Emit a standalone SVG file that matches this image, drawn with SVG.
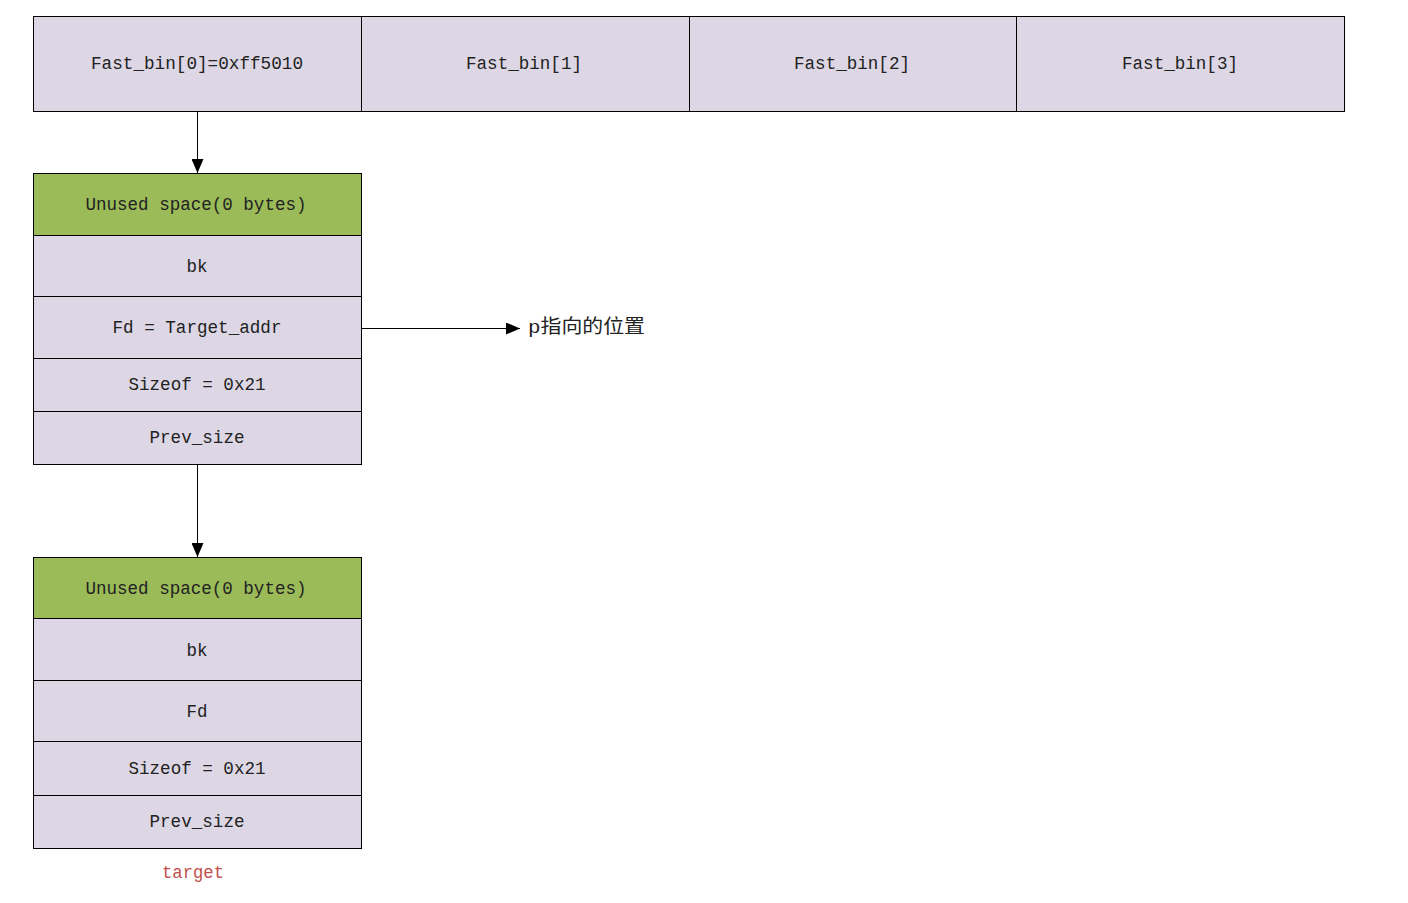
<svg xmlns="http://www.w3.org/2000/svg" width="1408" height="903" viewBox="0 0 1408 903">
<style>
.cell{fill:#DDD7E5;stroke:#000;stroke-width:1}
.green{fill:#9BBB59;stroke:#000;stroke-width:1}
.t{font-family:"Liberation Mono","Noto Sans CJK SC",monospace;font-size:19px;fill:#222;text-anchor:middle}
.edge{stroke:#000;stroke-width:1;fill:none}
</style>
<defs>
<marker id="ah" viewBox="0 0 14 12" refX="14" refY="6" markerWidth="14" markerHeight="12" markerUnits="userSpaceOnUse" orient="auto">
<path d="M0,0 L14,6 L0,12 Z" fill="#000"/>
</marker>
</defs>
<rect width="1408" height="903" fill="#fff"/>
<g id="fastbins">
<g id="fb0"><rect class="cell" x="33.5" y="16.5" width="328" height="95"/><text class="t" x="197" y="69" textLength="212" lengthAdjust="spacingAndGlyphs">Fast_bin[0]=0xff5010</text></g>
<g id="fb1"><rect class="cell" x="361.5" y="16.5" width="328" height="95"/><text class="t" x="524" y="69" textLength="116" lengthAdjust="spacingAndGlyphs">Fast_bin[1]</text></g>
<g id="fb2"><rect class="cell" x="689.5" y="16.5" width="327" height="95"/><text class="t" x="852" y="69" textLength="116" lengthAdjust="spacingAndGlyphs">Fast_bin[2]</text></g>
<g id="fb3"><rect class="cell" x="1016.5" y="16.5" width="328" height="95"/><text class="t" x="1180" y="69" textLength="116" lengthAdjust="spacingAndGlyphs">Fast_bin[3]</text></g>
</g>
<g id="chunk1">
<g id="c1-unused"><rect class="green" x="33.5" y="173.5" width="328" height="62"/><text class="t" x="196" y="210" textLength="221" lengthAdjust="spacingAndGlyphs">Unused space(0 bytes)</text></g>
<g id="c1-bk"><rect class="cell" x="33.5" y="235.5" width="328" height="61"/><text class="t" x="197" y="272" textLength="21" lengthAdjust="spacingAndGlyphs">bk</text></g>
<g id="c1-fd"><rect class="cell" x="33.5" y="296.5" width="328" height="62"/><text class="t" x="197" y="333" textLength="169" lengthAdjust="spacingAndGlyphs">Fd = Target_addr</text></g>
<g id="c1-size"><rect class="cell" x="33.5" y="358.5" width="328" height="53"/><text class="t" x="197" y="390" textLength="137" lengthAdjust="spacingAndGlyphs">Sizeof = 0x21</text></g>
<g id="c1-prev"><rect class="cell" x="33.5" y="411.5" width="328" height="53"/><text class="t" x="197" y="443" textLength="95" lengthAdjust="spacingAndGlyphs">Prev_size</text></g>
</g>
<g id="chunk2">
<g id="c2-unused"><rect class="green" x="33.5" y="557.5" width="328" height="61"/><text class="t" x="196" y="594" textLength="221" lengthAdjust="spacingAndGlyphs">Unused space(0 bytes)</text></g>
<g id="c2-bk"><rect class="cell" x="33.5" y="618.5" width="328" height="62"/><text class="t" x="197" y="656" textLength="21" lengthAdjust="spacingAndGlyphs">bk</text></g>
<g id="c2-fd"><rect class="cell" x="33.5" y="680.5" width="328" height="61"/><text class="t" x="197" y="717" textLength="21" lengthAdjust="spacingAndGlyphs">Fd</text></g>
<g id="c2-size"><rect class="cell" x="33.5" y="741.5" width="328" height="54"/><text class="t" x="197" y="774" textLength="137" lengthAdjust="spacingAndGlyphs">Sizeof = 0x21</text></g>
<g id="c2-prev"><rect class="cell" x="33.5" y="795.5" width="328" height="53"/><text class="t" x="197" y="827" textLength="95" lengthAdjust="spacingAndGlyphs">Prev_size</text></g>
</g>
<g id="label-target"><text class="t" x="193" y="878" style="fill:#C0504D" textLength="62" lengthAdjust="spacingAndGlyphs">target</text></g>
<g id="label-p"><text class="t" x="528" y="333" style="text-anchor:start" textLength="117" lengthAdjust="spacingAndGlyphs">p指向的位置</text></g>
<g id="connectors">
<line class="edge" x1="197.5" y1="111" x2="197.5" y2="173" marker-end="url(#ah)"/>
<line class="edge" x1="197.5" y1="464" x2="197.5" y2="557" marker-end="url(#ah)"/>
<line class="edge" x1="361" y1="328.5" x2="520" y2="328.5" marker-end="url(#ah)"/>
</g>
</svg>
